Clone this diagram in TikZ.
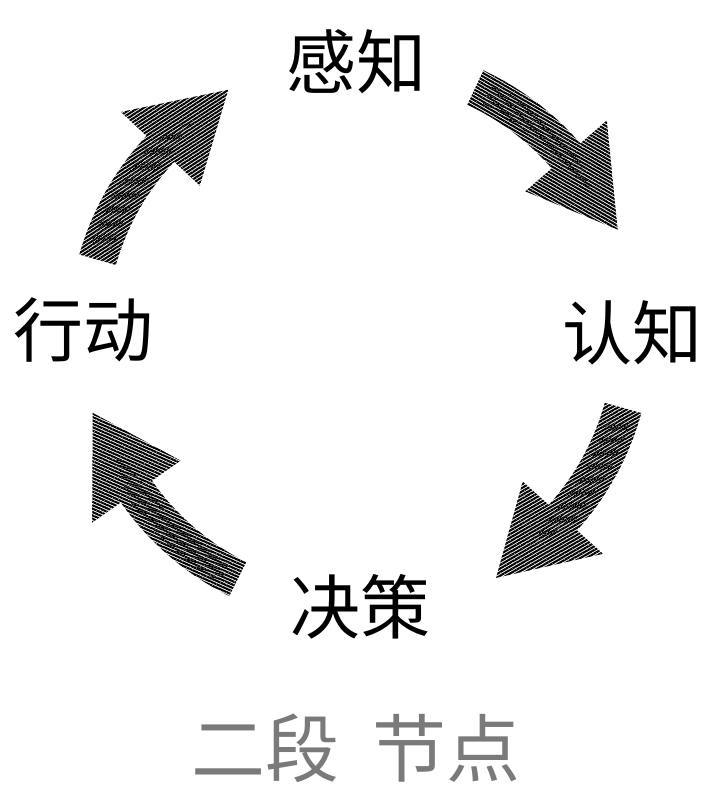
\documentclass[tikz,border=0pt]{standalone}
\usepackage{fontspec}
\newfontfamily\cjk{Noto Sans CJK SC}
\usetikzlibrary{patterns.meta,calc}
\definecolor{titlegray}{HTML}{7A7A7A}
\tikzset{
  cyclelabel/.style={font=\cjk\fontsize{70}{80}\selectfont, inner sep=0pt, text=black},
  titlelabel/.style={font=\cjk\fontsize{74}{84}\selectfont, inner sep=0pt, text=titlegray},
}
% #1 tail angle, #2 head-base angle, #3 hatch angle, #4 second hatch angle
\newcommand{\hatcharrow}[4]{%
  \path[pattern={Lines[angle=#3,distance=3.1pt,line width=2.1pt]}]
    (#1:292) arc[start angle=#1,end angle=#2,radius=292]
    -- (#2:327) -- ($(#2:273)+(#2-96:90)$) -- (#2:219) -- (#2:254)
    arc[start angle=#2,end angle=#1,radius=254] -- cycle;
  \path[pattern={Lines[angle=#4,distance=4pt,line width=1.8pt]}]
    (#1-3:284) arc[start angle=#1-3,end angle=#2,radius=284]
    -- ($(#2:273)+(#2-96:45)$) -- (#2:262)
    arc[start angle=#2,end angle=#1-3,radius=262] -- cycle;
}
\begin{document}
\begin{tikzpicture}[x=1pt,y=1pt]
  \useasboundingbox[fill=white] (0,0) rectangle (723,800);
  \begin{scope}[shift={(360,465)}]
    \hatcharrow{65}{41}{-30}{-22}
    \hatcharrow{-15.5}{-42}{30}{38}
    \hatcharrow{-116.6}{-145}{-24}{-16}
    \hatcharrow{164}{137}{33}{41}
  \end{scope}
  \node[cyclelabel] (perceive) at (356,738) {感知};
  \node[cyclelabel] (cognize)  at (632,467) {认知};
  \node[cyclelabel] (decide)   at (360,193) {决策};
  \node[cyclelabel] (act)      at (83,470)  {行动};
  \node[titlelabel] (title)    at (356,52)  {二段\hspace{0.45em}节点};
\end{tikzpicture}
\end{document}
